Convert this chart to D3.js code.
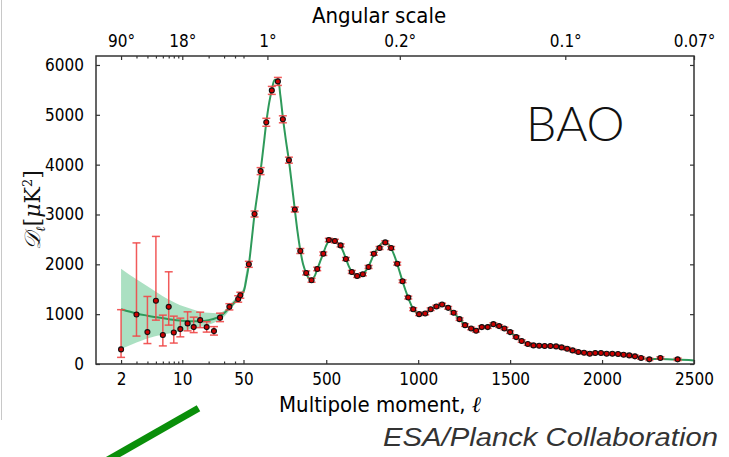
<!DOCTYPE html>
<html><head><meta charset="utf-8">
<script src="https://cdn.jsdelivr.net/npm/d3@7/dist/d3.min.js"></script>
<style>
html,body{margin:0;padding:0;background:#fff;}
svg{display:block;}
.tick text{font-family:"Liberation Sans Narrow","DejaVu Sans Condensed",sans-serif;font-size:17px;fill:#000;}
</style></head>
<body>
<svg id="c" width="729" height="457"></svg>
<script>
// ---- data ----
const yTicks = [0,1000,2000,3000,4000,5000,6000];
const xLogTicks = [2,10];
const xLinTicks = [50,500,1000,1500,2000,2500];
const xMinorTicks = [3,4,5,6,7,8,9,20,30,40];
const topTickL = [2,10,180,900,1800,2500];
const topTickLabels = ["90°","18°","1°","0.2°","0.1°","0.07°"];

const theoryL = [2,3,4,5,7,10,15,20,25,30,35,40,45,50,65,80,95,110,127,143,160,174,190,204,220,237,250,264,280,297,313,329,344,359,375,391,405,420,435,451,467,484,500,514,530,547,562,578,593,607,623,639,654,668,684,699,715,730,745,759,775,790,805,821,837,853,870,886,900,915,930,946,960,973,990,1005,1020,1038,1053,1068,1084,1099,1115,1130,1147,1163,1178,1193,1210,1225,1240,1255,1270,1288,1300,1315,1330,1346,1362,1378,1394,1409,1425,1440,1455,1469,1485,1500,1517,1533,1548,1563,1580,1596,1612,1627,1658,1688,1719,1750,1780,1810,1840,1871,1902,1933,1963,1994,2025,2056,2087,2117,2148,2179,2212,2257,2317,2411,2500];
const theoryD = [1100,1015,970,940,900,870,860,880,930,1020,1140,1250,1350,1450,1690,2020,2500,3000,3450,3880,4400,4850,5250,5500,5700,5680,5400,4950,4500,4080,3600,3100,2650,2280,1990,1820,1720,1690,1750,1900,2060,2220,2380,2470,2510,2480,2430,2370,2250,2110,1960,1850,1790,1765,1770,1800,1870,1960,2080,2200,2300,2370,2430,2440,2410,2320,2180,2010,1840,1660,1490,1330,1200,1100,1030,1005,1005,1020,1060,1100,1135,1160,1185,1190,1170,1130,1080,1030,960,900,840,785,745,715,700,690,700,725,750,770,785,790,785,765,745,715,680,640,590,540,495,460,430,405,390,378,368,362,358,350,333,307,275,245,228,215,213,212,208,205,198,188,172,152,125,100,100,88,70];

const bandL  = [2,3,4,6,9.5,13,16,20,25,30,35,40,45,50,60,70];
const bandHi = [1913,1700,1560,1360,1180,1100,1050,1030,1020,1070,1200,1310,1420,1530,1760,1950];
const bandLo = [300,430,510,590,650,700,745,790,860,950,1090,1200,1290,1380,1600,1810];

const dataL  = [2,3,4,5,6,7,8,9.5,11.5,13.5,16,19,23,27,34.5,43.5,46,79,110,143,174,204,237,264,297,329,359,391,420,451,484,514,547,578,607,639,668,699,730,759,790,821,853,886,915,946,973,1005,1038,1068,1099,1130,1163,1193,1225,1255,1288,1315,1346,1378,1409,1440,1469,1500,1533,1563,1596,1627,1658,1688,1719,1750,1780,1810,1840,1871,1902,1933,1963,1994,2025,2056,2087,2117,2148,2179,2212,2257,2317,2411];
const dataD  = [293,993,640,1270,583,1147,633,700,815,740,880,740,660,930,1147,1305,1380,2000,3010,3870,4850,5490,5670,4910,4090,3100,2267,1827,1680,1907,2213,2487,2467,2380,2107,1847,1767,1800,1947,2213,2327,2440,2327,2013,1660,1333,1100,1000,1013,1100,1153,1193,1127,1027,900,780,713,667,740,740,800,760,713,640,540,460,400,373,367,360,360,353,333,307,273,240,227,207,220,220,207,207,200,187,173,153,120,93,120,93];
const errHi  = [797,1437,715,1290,397,703,327,220,232,200,160,108,90,90,63,65,60,60,60,70,80,80,80,70,60,50,50,40,40,35,35,35,35,30,30,30,30,30,30,30,30,30,30,30,28,28,28,26,26,26,26,26,26,26,25,25,25,25,25,25,25,25,25,25,24,24,24,24,24,24,24,24,24,24,24,24,24,24,24,24,24,24,24,24,24,24,24,24,24,24];
const errLo  = [160,433,230,390,220,367,213,155,150,110,150,100,80,80,62,65,60,60,60,70,80,80,80,70,60,50,50,40,40,35,35,35,35,30,30,30,30,30,30,30,30,30,30,30,28,28,28,26,26,26,26,26,26,26,25,25,25,25,25,25,25,25,25,25,24,24,24,24,24,24,24,24,24,24,24,24,24,24,24,24,24,24,24,24,24,24,24,24,24,24];

// ---- layout ----
const L = 96, R = 694, T = 56, B = 364, SPLIT = 243.5;
const svg = d3.select("#c");

const xLog = d3.scaleLog().domain([1.035, 50]).range([L, SPLIT]);
const xLin = d3.scaleLinear().domain([50, 2500]).range([SPLIT, R]);
const x = l => l < 50 ? xLog(l) : xLin(l);
const y = d3.scaleLinear().domain([0, 6180]).range([B, T]);

// slide decorations
svg.append("line").attr("x1",1.5).attr("x2",1.5).attr("y1",0).attr("y2",420)
  .attr("stroke","#c8c8c8").attr("stroke-width",1);

// band
const band = bandL.map((l,i)=>({l,hi:bandHi[i],lo:bandLo[i]}));
svg.append("path").datum(band)
  .attr("d", d3.area().x(d=>x(d.l)).y0(d=>y(d.lo)).y1(d=>y(d.hi)).curve(d3.curveMonotoneX))
  .attr("fill","#8fd6ad").attr("fill-opacity",0.75);

// theory line
const th = theoryL.map((l,i)=>({l,d:theoryD[i]}));
svg.append("path").datum(th)
  .attr("d", d3.line().x(d=>x(d.l)).y(d=>y(d.d)).curve(d3.curveCatmullRom))
  .attr("fill","none").attr("stroke","#2e9a5a").attr("stroke-width",2);

// error bars + points
const pts = dataL.map((l,i)=>({l,d:dataD[i],hi:dataD[i]+errHi[i],lo:dataD[i]-errLo[i]}));
const eg = svg.append("g").attr("stroke","#f04848").attr("stroke-width",1.5).attr("stroke-opacity",0.9);
pts.forEach(p=>{
  const px = x(p.l);
  eg.append("line").attr("x1",px).attr("x2",px).attr("y1",y(p.hi)).attr("y2",y(p.lo));
  eg.append("line").attr("x1",px-4).attr("x2",px+4).attr("y1",y(p.hi)).attr("y2",y(p.hi));
  eg.append("line").attr("x1",px-4).attr("x2",px+4).attr("y1",y(p.lo)).attr("y2",y(p.lo));
});
svg.append("g").selectAll("circle").data(pts).join("circle")
  .attr("cx",d=>x(d.l)).attr("cy",d=>y(d.d)).attr("r",2.5)
  .attr("fill","#cc0000").attr("stroke","#111").attr("stroke-width",1.1);

// frame
svg.append("rect").attr("x",L).attr("y",T).attr("width",R-L).attr("height",B-T)
  .attr("fill","none").attr("stroke","#333").attr("stroke-width",1.5);

function styleAxis(g){
  g.select(".domain").remove();
  g.selectAll(".tick line").attr("stroke","#333").attr("stroke-width",1.2);
}
// bottom axes
svg.append("g").attr("transform",`translate(0,${B})`)
  .call(d3.axisBottom(xLog).tickValues(xLogTicks).tickFormat(d3.format("d")).tickSize(-4).tickPadding(9)).call(styleAxis);
svg.append("g").attr("transform",`translate(0,${B})`)
  .call(d3.axisBottom(xLin).tickValues(xLinTicks).tickFormat(d3.format("d")).tickSize(-4).tickPadding(9)).call(styleAxis);
svg.append("g").attr("transform",`translate(0,${B})`)
  .call(d3.axisBottom(xLog).tickValues(xMinorTicks).tickFormat("").tickSize(-2.5)).call(styleAxis);
// top axes
const topLog = topTickL.filter(l=>l<50), topLin = topTickL.filter(l=>l>=50);
const lab = l => topTickLabels[topTickL.indexOf(l)];
svg.append("g").attr("transform",`translate(0,${T})`)
  .call(d3.axisTop(xLog).tickValues(topLog).tickFormat(lab).tickSize(-4).tickPadding(9)).call(styleAxis);
svg.append("g").attr("transform",`translate(0,${T})`)
  .call(d3.axisTop(xLin).tickValues(topLin).tickFormat(lab).tickSize(-4).tickPadding(9)).call(styleAxis);
svg.append("g").attr("transform",`translate(0,${T})`)
  .call(d3.axisTop(xLog).tickValues(xMinorTicks.concat([50])).tickFormat("").tickSize(-2.5)).call(styleAxis);
// left / right axes
svg.append("g").attr("transform",`translate(${L},0)`)
  .call(d3.axisLeft(y).tickValues(yTicks).tickFormat(d3.format("d")).tickSize(-4).tickPadding(12)).call(styleAxis);
svg.append("g").attr("transform",`translate(${R},0)`)
  .call(d3.axisRight(y).tickValues(yTicks).tickFormat("").tickSize(-4)).call(styleAxis);

// titles
svg.append("text").attr("x",379).attr("y",23).attr("text-anchor","middle")
  .style("font-family",'"Liberation Sans Narrow","DejaVu Sans Condensed",sans-serif').style("font-size","22px").attr("fill","#000")
  .text("Angular scale");
const xt = svg.append("text").attr("x",380).attr("y",412).attr("text-anchor","middle")
  .style("font-family",'"Liberation Sans Narrow","DejaVu Sans Condensed",sans-serif').style("font-size","22px").attr("fill","#000");
xt.append("tspan").text("Multipole moment, ");
xt.append("tspan").style("font-family",'"DejaVu Serif",serif').style("font-style","italic").text("ℓ");

const yl = svg.append("text").attr("transform","translate(40,210) rotate(-90)").attr("text-anchor","middle")
  .style("font-family",'"DejaVu Serif",serif').style("font-size","22px").attr("fill","#111");
yl.append("tspan").style("font-style","italic").text("𝒟");
yl.append("tspan").attr("dy",5).style("font-size","13px").style("font-style","italic").text("ℓ");
yl.append("tspan").attr("dy",-5).text("[");
yl.append("tspan").style("font-style","italic").text("μ");
yl.append("tspan").text("K");
yl.append("tspan").attr("dy",-8).style("font-size","13px").text("2");
yl.append("tspan").attr("dy",8).text("]");

svg.append("text").attr("x",526).attr("y",141)
  .style("font-family","Lato, 'Open Sans', sans-serif").style("font-weight",300).style("font-size","48px").attr("fill","#111")
  .text("BAO");
svg.append("text").attr("x",383).attr("y",446)
  .attr("textLength",335).attr("lengthAdjust","spacingAndGlyphs")
  .style("font-family","'Liberation Sans', Arial, sans-serif").style("font-style","italic").style("font-size","25px").attr("fill","#333")
  .text("ESA/Planck Collaboration");

// green stroke decoration
svg.append("line").attr("x1",96).attr("y1",466.7).attr("x2",198.5).attr("y2",408.3)
  .attr("stroke","#0a8f0a").attr("stroke-width",7);
</script>
</body></html>
